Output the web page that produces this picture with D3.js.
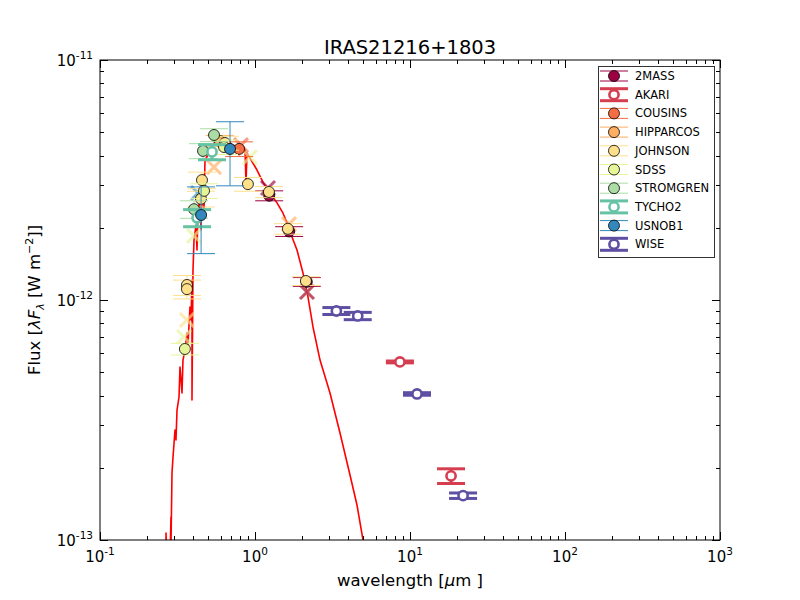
<!DOCTYPE html>
<html>
<head>
<meta charset="utf-8">
<script src="https://cdn.jsdelivr.net/npm/d3@7"></script>
<style>
  body { margin: 0; background: #fff; }
  svg text { font-family: "DejaVu Sans", sans-serif; fill: #000; }
</style>
</head>
<body>
<div id="sed"></div>
<script>
var margin = {top: 60, right: 80, bottom: 60, left: 100},
    w = 800,
    h = 600;

// model spectrum, wavelength in micron and lambda F_lambda in W m^-2
var specWave = [0.2666, 0.2666, 0.2705, 0.2828, 0.2871, 0.2871, 0.2914, 0.2958, 0.3047, 0.3092,
                0.3140, 0.3234, 0.3282, 0.3332, 0.3381, 0.3431, 0.3535, 0.3641, 0.3695, 0.3807,
                0.3865, 0.3922, 0.3922, 0.3981, 0.4042, 0.4163, 0.4225, 0.4287, 0.4417, 0.4483,
                0.4618, 0.4688, 0.4757, 0.4974, 0.5126, 0.5280, 0.5519, 0.5770, 0.6124, 0.6404,
                0.6696, 0.7105, 0.7544, 0.8000, 0.8367, 0.8620, 0.8748, 0.8879, 0.9283, 1.030,
                1.126, 1.213, 1.387, 1.516, 1.633, 1.733, 1.866, 2.040, 2.198, 2.367,
                2.627, 3.047, 3.535, 4.101, 4.550, 4.974, 5.20];
var specFlux = [8.25e-14, 1.07e-13, 8.25e-14, 8.25e-14, 1.247e-13, 9.53e-14, 1.902e-13, 2.218e-13, 2.872e-13, 2.61e-13,
                3.48e-13, 3.943e-13, 5.257e-13, 4.64e-13, 4.10e-13, 5.62e-13, 6.19e-13, 7.29e-13, 6.49e-13, 9.35e-13,
                8.25e-13, 1.212e-12, 3.83e-13, 1.334e-12, 1.778e-12, 2.05e-12, 1.616e-12, 2.37e-12, 2.61e-12, 1.957e-12,
                3.32e-12, 2.37e-12, 3.83e-12, 4.02e-12, 4.22e-12, 4.42e-12, 4.55e-12, 4.64e-12, 4.55e-12, 4.51e-12,
                4.64e-12, 4.42e-12, 4.38e-12, 4.22e-12, 4.30e-12, 4.22e-12, 3.07e-12, 4.10e-12, 3.90e-12, 3.48e-12,
                3.10e-12, 2.87e-12, 2.54e-12, 2.30e-12, 2.05e-12, 1.83e-12, 1.616e-12, 1.295e-12, 1.029e-12, 7.72e-13,
                5.62e-13, 4.10e-13, 2.79e-13, 1.866e-13, 1.399e-13, 1.0e-13, 8.25e-14];

// photometry per catalogue: [wavelength, flux, flux error]
var data2MASS     = [[1.235, 2.72e-12, 0.13e-12], [1.662, 1.93e-12, 0.09e-12], [2.159, 1.19e-12, 0.05e-12]];
var dataAKARI     = [[8.61, 5.52e-13, 0.05e-13], [18.4, 1.85e-13, 0.13e-13]];
var dataCOUSINS   = [[0.79, 4.26e-12, 0.30e-12]];
var dataHIPPARCOS = [[0.594, 4.60e-12, 0.25e-12]];
var dataJOHNSON   = [[0.364, 1.155e-12, 0.11e-12], [0.364, 1.11e-12, 0.10e-12], [0.455, 3.16e-12, 0.25e-12],
                     [0.448, 2.64e-12, 0.20e-12], [0.640, 4.51e-12, 0.30e-12], [0.90, 3.04e-12, 0.20e-12],
                     [1.23, 2.82e-12, 0.15e-12], [1.63, 1.98e-12, 0.10e-12], [2.13, 1.20e-12, 0.05e-12]];
var dataSDSS      = [[0.353, 6.25e-13, 0.35e-13], [0.469, 2.85e-12, 0.20e-12], [0.631, 4.34e-12, 0.30e-12]];
var dataSTROMGREN = [[0.544, 4.87e-12, 0.30e-12], [0.462, 4.18e-12, 0.30e-12], [0.404, 2.39e-12, 0.20e-12]];
var dataTYCHO2    = [[0.423, 2.20e-12, 0.18e-12], [0.528, 4.14e-12, 0.30e-12]];
var dataUSNOB1    = [[0.69, 4.26e-12, 1.27e-12], [0.449, 2.26e-12, 0.70e-12]];
var dataWISE      = [[3.35, 9.0e-13, 0.30e-13], [4.6, 8.58e-13, 0.30e-13], [11.1, 4.06e-13, 0.05e-13], [22.0, 1.53e-13, 0.04e-13]];

var catalogues = ["2MASS", "AKARI", "COUSINS", "HIPPARCOS", "JOHNSON", "SDSS", "STROMGREN", "TYCHO2", "USNOB1", "WISE"];
var catData = [data2MASS, dataAKARI, dataCOUSINS, dataHIPPARCOS, dataJOHNSON, dataSDSS, dataSTROMGREN, dataTYCHO2, dataUSNOB1, dataWISE];
var openMarker = ["AKARI", "TYCHO2", "WISE"];

// synthetic photometry of the model (drawn as crosses)
var synthWave = [2.165, 2.165, 1.213, 1.657, 0.544, 0.404, 0.364, 0.348, 0.928, 0.812, 0.429];
var synthFlux = [1.08e-12, 1.08e-12, 2.93e-12, 2.07e-12, 3.58e-12, 1.85e-12, 8.25e-13, 7.01e-13, 3.94e-12, 4.42e-12, 2.79e-12];
var synthCat  = ["JOHNSON", "2MASS", "2MASS", "HIPPARCOS", "HIPPARCOS", "SDSS", "JOHNSON", "SDSS", "SDSS", "COUSINS", "USNOB1"];

var xMajor = ["-1", "0", "1", "2", "3"];
var yMajor = ["-13", "-12", "-11"];

function draw_sed() {
  var svg = d3.select("#sed").append("svg")
    .attr("width", w)
    .attr("height", h);

  var width = w - margin.left - margin.right,
      height = h - margin.top - margin.bottom;

  var x = d3.scaleLog().domain([0.1, 1000]).range([margin.left, margin.left + width]);
  var y = d3.scaleLog().domain([1e-13, 1e-11]).range([margin.top + height, margin.top]);

  var color = d3.scaleOrdinal()
    .domain(catalogues)
    .range(["#9e0142", "#d53e4f", "#f46d43", "#fdae61", "#fee08b", "#e6f598", "#abdda4", "#66c2a5", "#3288bd", "#5e4fa2"]);

  svg.append("defs").append("clipPath").attr("id", "plotclip")
    .append("rect")
    .attr("x", margin.left).attr("y", margin.top)
    .attr("width", width).attr("height", height);

  var plot = svg.append("g").attr("clip-path", "url(#plotclip)");

  // model spectrum
  var spec = specWave.map(function(d, i) { return [d, specFlux[i]]; });
  plot.append("path")
    .datum(spec)
    .attr("d", d3.line().x(function(d) { return x(d[0]); }).y(function(d) { return y(d[1]); }))
    .attr("fill", "none")
    .attr("stroke", "#ff0000")
    .attr("stroke-width", 1.6)
    .attr("stroke-linejoin", "round");

  // crosses
  synthWave.forEach(function(d, i) {
    var cx = x(d), cy = y(synthFlux[i]), s = 7;
    plot.append("path")
      .attr("d", "M" + (cx - s) + "," + (cy - s) + "L" + (cx + s) + "," + (cy + s) +
                 "M" + (cx - s) + "," + (cy + s) + "L" + (cx + s) + "," + (cy - s))
      .attr("stroke", color(synthCat[i]))
      .attr("stroke-width", 3)
      .attr("stroke-opacity", 0.65)
      .attr("fill", "none");
  });

  // photometry with error bars
  var cap = 14;
  catalogues.forEach(function(name, k) {
    var open = openMarker.indexOf(name) >= 0;
    var lw = open ? 3 : 1;
    var g = plot.append("g");
    catData[k].forEach(function(p) {
      var cx = x(p[0]), y0 = y(p[1] - p[2]), y1 = y(p[1] + p[2]);
      var eb = g.append("g")
        .attr("stroke", color(name))
        .attr("stroke-width", lw);
      eb.append("line").attr("x1", cx).attr("x2", cx).attr("y1", y0).attr("y2", y1);
      eb.append("line").attr("x1", cx - cap).attr("x2", cx + cap).attr("y1", y0).attr("y2", y0);
      eb.append("line").attr("x1", cx - cap).attr("x2", cx + cap).attr("y1", y1).attr("y2", y1);
    });
    g.selectAll("circle")
      .data(catData[k])
      .enter().append("circle")
      .attr("cx", function(d) { return x(d[0]); })
      .attr("cy", function(d) { return y(d[1]); })
      .attr("r", open ? 4.6 : 5.5)
      .attr("fill", open ? "#fff" : color(name))
      .attr("stroke", open ? color(name) : "#000")
      .attr("stroke-width", open ? 2.6 : 0.8);
  });

  // frame
  svg.append("rect")
    .attr("x", margin.left).attr("y", margin.top)
    .attr("width", width).attr("height", height)
    .attr("fill", "none").attr("stroke", "#000").attr("stroke-width", 1);

  // ticks on all four sides, pointing in
  var ticks = svg.append("g").attr("stroke", "#000").attr("stroke-width", 1);
  x.ticks().forEach(function(t) {
    var major = Math.abs(Math.log10(t) - Math.round(Math.log10(t))) < 1e-6;
    var len = major ? 8 : 4, px = Math.round(x(t)) + 0.5;
    ticks.append("line").attr("x1", px).attr("x2", px).attr("y1", margin.top + height).attr("y2", margin.top + height - len);
    ticks.append("line").attr("x1", px).attr("x2", px).attr("y1", margin.top).attr("y2", margin.top + len);
  });
  y.ticks().forEach(function(t) {
    var major = Math.abs(Math.log10(t) - Math.round(Math.log10(t))) < 1e-6;
    var len = major ? 8 : 4, py = Math.round(y(t)) + 0.5;
    ticks.append("line").attr("y1", py).attr("y2", py).attr("x1", margin.left).attr("x2", margin.left + len);
    ticks.append("line").attr("y1", py).attr("y2", py).attr("x1", margin.left + width).attr("x2", margin.left + width - len);
  });

  // tick labels
  xMajor.forEach(function(e) {
    var t = svg.append("text")
      .attr("x", x(Math.pow(10, +e)))
      .attr("y", margin.top + height + 22)
      .attr("text-anchor", "middle")
      .style("font-size", "15px");
    t.append("tspan").text("10");
    t.append("tspan").attr("dy", -7).style("font-size", "10.5px").text(e);
  });
  yMajor.forEach(function(e) {
    var t = svg.append("text")
      .attr("x", margin.left - 7)
      .attr("y", y(Math.pow(10, +e)) + 6)
      .attr("text-anchor", "end")
      .style("font-size", "15px");
    t.append("tspan").text("10");
    t.append("tspan").attr("dy", -7).style("font-size", "10.5px").text(e);
  });

  // title and axis labels
  svg.append("text")
    .attr("x", margin.left + width / 2)
    .attr("y", 54)
    .attr("text-anchor", "middle")
    .style("font-size", "19.5px")
    .text("IRAS21216+1803");

  var xl = svg.append("text")
    .attr("x", margin.left + width / 2)
    .attr("y", 586)
    .attr("text-anchor", "middle")
    .style("font-size", "16.5px");
  xl.append("tspan").text("wavelength [");
  xl.append("tspan").style("font-style", "italic").text("\u03bc");
  xl.append("tspan").text("m ]");

  var yl = svg.append("text")
    .attr("transform", "translate(40," + (margin.top + height / 2) + ") rotate(-90)")
    .attr("text-anchor", "middle")
    .style("font-size", "16.5px");
  yl.append("tspan").text("Flux [");
  yl.append("tspan").style("font-style", "italic").text("\u03bbF");
  yl.append("tspan").style("font-style", "italic").style("font-size", "11px").attr("dy", 4).text("\u03bb");
  yl.append("tspan").attr("dy", -4).text(" [W  m");
  yl.append("tspan").style("font-size", "11px").attr("dy", -7).text("\u22122");
  yl.append("tspan").attr("dy", 7).text("]]");

  // legend
  var lx = 598, ly = 66, rowH = 18.7;
  svg.append("rect")
    .attr("x", lx + 0.5).attr("y", ly + 0.5)
    .attr("width", 116).attr("height", 191)
    .attr("fill", "#fff").attr("stroke", "#333").attr("stroke-width", 1);

  catalogues.forEach(function(name, i) {
    var open = openMarker.indexOf(name) >= 0;
    var cy = ly + 10 + i * rowH, cx = lx + 16;
    var row = svg.append("g");
    var e = open ? 6 : 5;
    var eb = row.append("g").attr("stroke", color(name)).attr("stroke-width", open ? 3 : 1);
    eb.append("line").attr("x1", cx).attr("x2", cx).attr("y1", cy - e).attr("y2", cy + e);
    eb.append("line").attr("x1", cx - cap).attr("x2", cx + cap).attr("y1", cy - e).attr("y2", cy - e);
    eb.append("line").attr("x1", cx - cap).attr("x2", cx + cap).attr("y1", cy + e).attr("y2", cy + e);
    row.append("circle")
      .attr("cx", cx).attr("cy", cy)
      .attr("r", open ? 4.6 : 5.5)
      .attr("fill", open ? "#fff" : color(name))
      .attr("stroke", open ? color(name) : "#000")
      .attr("stroke-width", open ? 2.6 : 0.8);
    row.append("text")
      .attr("x", lx + 37).attr("y", cy + 4)
      .style("font-size", "11.5px")
      .text(name);
  });
}

draw_sed();
</script>
</body>
</html>
